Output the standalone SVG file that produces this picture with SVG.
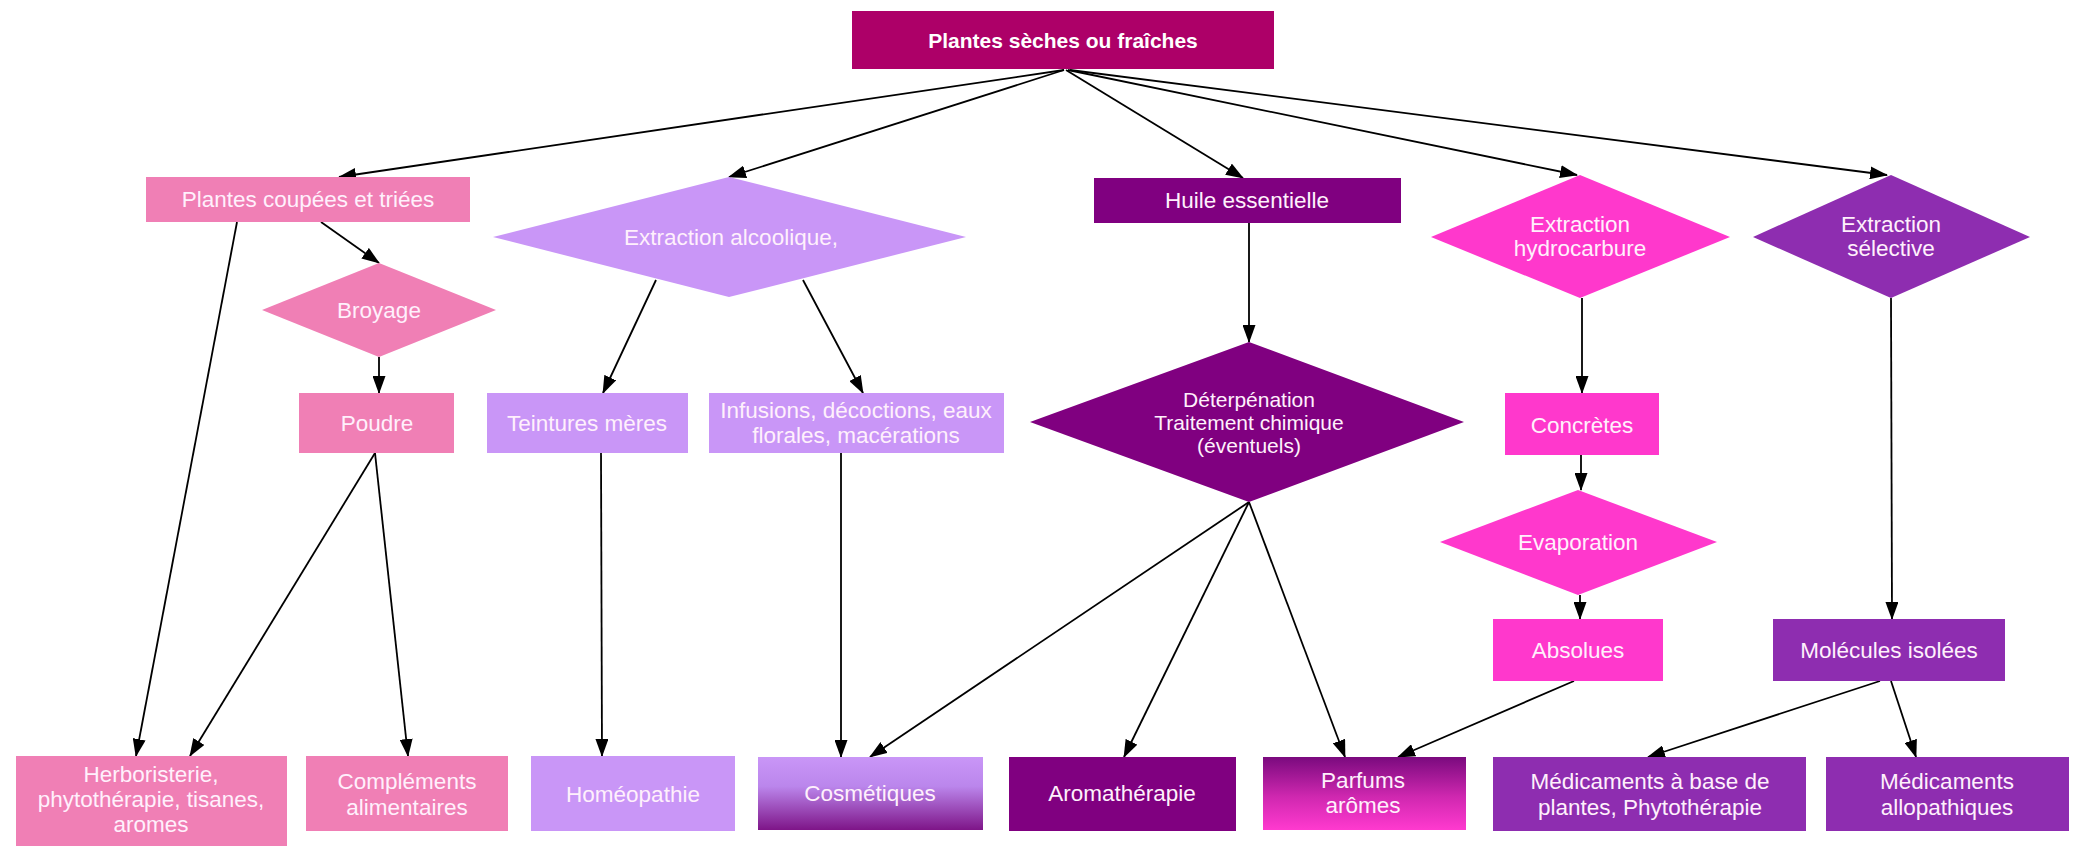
<svg xmlns="http://www.w3.org/2000/svg" width="2088" height="851" viewBox="0 0 2088 851">
<defs>
<style>
.t{font-family:"Liberation Sans",Arial,sans-serif;font-size:22.5px;fill:#FFF0FC;text-anchor:middle}
.tb{font-family:"Liberation Sans",Arial,sans-serif;font-size:21px;font-weight:bold;fill:#FFFFFF;text-anchor:middle}
.ts{font-family:"Liberation Sans",Arial,sans-serif;font-size:21px;fill:#FFF0FC;text-anchor:middle}
.pink{fill:#F07FB5}
.lav{fill:#C996F7}
.dpur{fill:#800080}
.hot{fill:#FF38CC}
.pur{fill:#8E2DB0}
.top{fill:#AD0068}
.c line{stroke:#000;stroke-width:1.8;marker-end:url(#ah)}
</style>
<marker id="ah" markerUnits="userSpaceOnUse" markerWidth="18" markerHeight="13" refX="17" refY="6.5" orient="auto">
<path d="M0,0 L18,6.5 L0,13 Z" fill="#000"/>
</marker>
<linearGradient id="gCos" x1="0" y1="0" x2="0" y2="1">
<stop offset="0" stop-color="#C996F7"/>
<stop offset="0.4" stop-color="#BB86EC"/>
<stop offset="1" stop-color="#7E1588"/>
</linearGradient>
<linearGradient id="gPar" x1="0" y1="0" x2="0" y2="1">
<stop offset="0" stop-color="#7A0A7E"/>
<stop offset="0.55" stop-color="#D028B0"/>
<stop offset="1" stop-color="#FF3ACF"/>
</linearGradient>
</defs>
<rect width="2088" height="851" fill="#FFFFFF"/>

<g id="connectors" class="c">
<line x1="1064" y1="70" x2="339" y2="177"/>
<line x1="1064" y1="70" x2="729" y2="177"/>
<line x1="1066" y1="70" x2="1243" y2="178"/>
<line x1="1068" y1="70" x2="1577" y2="175"/>
<line x1="1070" y1="70" x2="1887" y2="175"/>
<line x1="237" y1="222" x2="136" y2="756"/>
<line x1="321" y1="222" x2="379" y2="263"/>
<line x1="379" y1="357" x2="379" y2="393"/>
<line x1="375" y1="453" x2="190" y2="756"/>
<line x1="375" y1="453" x2="408" y2="756"/>
<line x1="656" y1="280" x2="603" y2="393"/>
<line x1="803" y1="280" x2="863" y2="393"/>
<line x1="601" y1="453" x2="602" y2="756"/>
<line x1="841" y1="453" x2="841" y2="757"/>
<line x1="1249" y1="223" x2="1249" y2="342"/>
<line x1="1249" y1="502" x2="870" y2="757"/>
<line x1="1249" y1="502" x2="1124" y2="757"/>
<line x1="1249" y1="502" x2="1345" y2="757"/>
<line x1="1582" y1="298" x2="1582" y2="393"/>
<line x1="1581" y1="455" x2="1581" y2="490"/>
<line x1="1580" y1="595" x2="1580" y2="619"/>
<line x1="1574" y1="681" x2="1398" y2="757"/>
<line x1="1891" y1="298" x2="1892" y2="619"/>
<line x1="1880" y1="681" x2="1648" y2="757"/>
<line x1="1891" y1="681" x2="1916" y2="757"/>
</g>

<g id="n-top"><rect class="top" x="852" y="11" width="422" height="58"/><text class="tb" x="1063" y="48">Plantes sèches ou fraîches</text></g>
<g id="n-coupees"><rect class="pink" x="146" y="177" width="324" height="45"/><text class="t" x="308" y="207">Plantes coupées et triées</text></g>
<g id="n-broyage"><polygon class="pink" points="262,310 379,263 496,310 379,357"/><text class="t" x="379" y="318">Broyage</text></g>
<g id="n-poudre"><rect class="pink" x="299" y="393" width="155" height="60"/><text class="t" x="377" y="431">Poudre</text></g>
<g id="n-alcool"><polygon class="lav" points="493,237 729,177 966,237 729,297"/><text class="t" x="731" y="245">Extraction alcoolique,</text></g>
<g id="n-teintures"><rect class="lav" x="487" y="393" width="201" height="60"/><text class="t" x="587" y="431">Teintures mères</text></g>
<g id="n-infusions"><rect class="lav" x="709" y="393" width="295" height="60"/><text class="t" x="856" y="418">Infusions, décoctions, eaux</text><text class="t" x="856" y="443">florales, macérations</text></g>
<g id="n-huile"><rect class="dpur" x="1094" y="178" width="307" height="45"/><text class="t" x="1247" y="208">Huile essentielle</text></g>
<g id="n-deterp"><polygon class="dpur" points="1030,422 1249,342 1464,422 1249,502"/><text class="ts" x="1249" y="407">Déterpénation</text><text class="ts" x="1249" y="430">Traitement chimique</text><text class="ts" x="1249" y="453">(éventuels)</text></g>
<g id="n-hydro"><polygon class="hot" points="1431,237 1580,175 1730,237 1580,298"/><text class="t" x="1580" y="232">Extraction</text><text class="t" x="1580" y="256">hydrocarbure</text></g>
<g id="n-selective"><polygon class="pur" points="1753,237 1891,175 2030,237 1891,298"/><text class="t" x="1891" y="232">Extraction</text><text class="t" x="1891" y="256">sélective</text></g>
<g id="n-concretes"><rect class="hot" x="1505" y="393" width="154" height="62"/><text class="t" x="1582" y="433">Concrètes</text></g>
<g id="n-evap"><polygon class="hot" points="1440,542 1578,490 1717,542 1578,595"/><text class="t" x="1578" y="550">Evaporation</text></g>
<g id="n-absolues"><rect class="hot" x="1493" y="619" width="170" height="62"/><text class="t" x="1578" y="658">Absolues</text></g>
<g id="n-molecules"><rect class="pur" x="1773" y="619" width="232" height="62"/><text class="t" x="1889" y="658">Molécules isolées</text></g>
<g id="n-herbo"><rect class="pink" x="16" y="756" width="271" height="90"/><text class="t" x="151" y="782">Herboristerie,</text><text class="t" x="151" y="807">phytothérapie, tisanes,</text><text class="t" x="151" y="832">aromes</text></g>
<g id="n-complements"><rect class="pink" x="306" y="756" width="202" height="75"/><text class="t" x="407" y="789">Compléments</text><text class="t" x="407" y="815">alimentaires</text></g>
<g id="n-homeo"><rect class="lav" x="531" y="756" width="204" height="75"/><text class="t" x="633" y="802">Homéopathie</text></g>
<g id="n-cosmetiques"><rect fill="url(#gCos)" x="758" y="757" width="225" height="73"/><text class="t" x="870" y="801">Cosmétiques</text></g>
<g id="n-aroma"><rect class="dpur" x="1009" y="757" width="227" height="74"/><text class="t" x="1122" y="801">Aromathérapie</text></g>
<g id="n-parfums"><rect fill="url(#gPar)" x="1263" y="757" width="203" height="73"/><text class="t" x="1363" y="788">Parfums</text><text class="t" x="1363" y="813">arômes</text></g>
<g id="n-medplantes"><rect class="pur" x="1493" y="757" width="313" height="74"/><text class="t" x="1650" y="789">Médicaments à base de</text><text class="t" x="1650" y="815">plantes, Phytothérapie</text></g>
<g id="n-medallo"><rect class="pur" x="1826" y="757" width="243" height="74"/><text class="t" x="1947" y="789">Médicaments</text><text class="t" x="1947" y="815">allopathiques</text></g>
</svg>
